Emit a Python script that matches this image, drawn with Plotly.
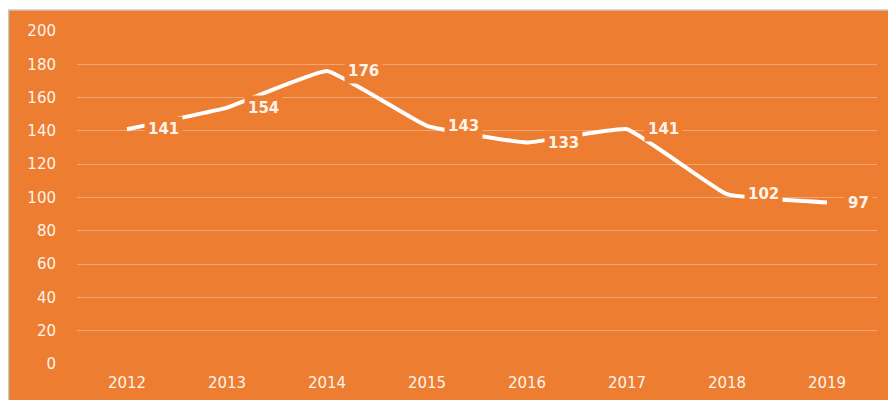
import plotly.graph_objects as go

years = ["2012", "2013", "2014", "2015", "2016", "2017", "2018", "2019"]
values = [141, 154, 176, 143, 133, 141, 102, 97]
y_ticks = [0, 20, 40, 60, 80, 100, 120, 140, 160, 180, 200]

ORANGE = "#ED7D31"
TXT = "#FFF4EC"
GRID = "#F3A673"

# page has an 8px body margin, so the figure is 8px smaller than the window
W, H = 888, 392
ml, mr, mt, mb = 69, 19, 23, 36
pw, ph = W - ml - mr, H - mt - mb

fig = go.Figure()
fig.add_trace(go.Scatter(
    x=list(range(len(years))), y=values, mode="lines",
    line=dict(color="white", width=4, shape="spline", smoothing=0.3),
    hoverinfo="skip", showlegend=False,
))

for i, v in enumerate(values):
    fig.add_annotation(
        x=i, y=v, xref="x", yref="y", text=str(v), showarrow=False,
        xanchor="left", yanchor="middle", xshift=17, yshift=0,
        bgcolor=ORANGE, borderpad=3,
        font=dict(family="DejaVu Sans", size=15, color=TXT, weight="bold"),
    )

# orange chart area with thin grey border (white page strip at top/left)
fig.add_shape(
    type="rect", xref="paper", yref="paper", layer="below",
    x0=(0.5 - ml) / pw, x1=(W + 5 - ml) / pw,
    y0=-(H + 5 - mt - ph) / ph, y1=1 + (mt - 2) / ph,
    fillcolor=ORANGE, line=dict(color="#C8C8C8", width=1.5),
)

fig.update_layout(
    width=W, height=H,
    margin=dict(l=ml, r=mr, t=mt, b=mb, autoexpand=False),
    paper_bgcolor="white", plot_bgcolor="rgba(0,0,0,0)",
    font=dict(family="DejaVu Sans", size=15, color=TXT),
)
fig.update_xaxes(
    range=[-0.5, len(years) - 0.5], tickvals=list(range(len(years))), ticktext=years,
    showgrid=False, zeroline=False, showline=False, ticks="", automargin=False,
    ticklabelstandoff=8, tickfont=dict(size=15, color=TXT),
)
fig.update_yaxes(
    range=[0, 200], tickvals=y_ticks, showgrid=True, gridcolor=GRID, gridwidth=1,
    zeroline=False, showline=False, ticks="", automargin=False, ticklabelstandoff=20,
    tickfont=dict(size=15, color=TXT),
)

fig.write_html("out.html")
